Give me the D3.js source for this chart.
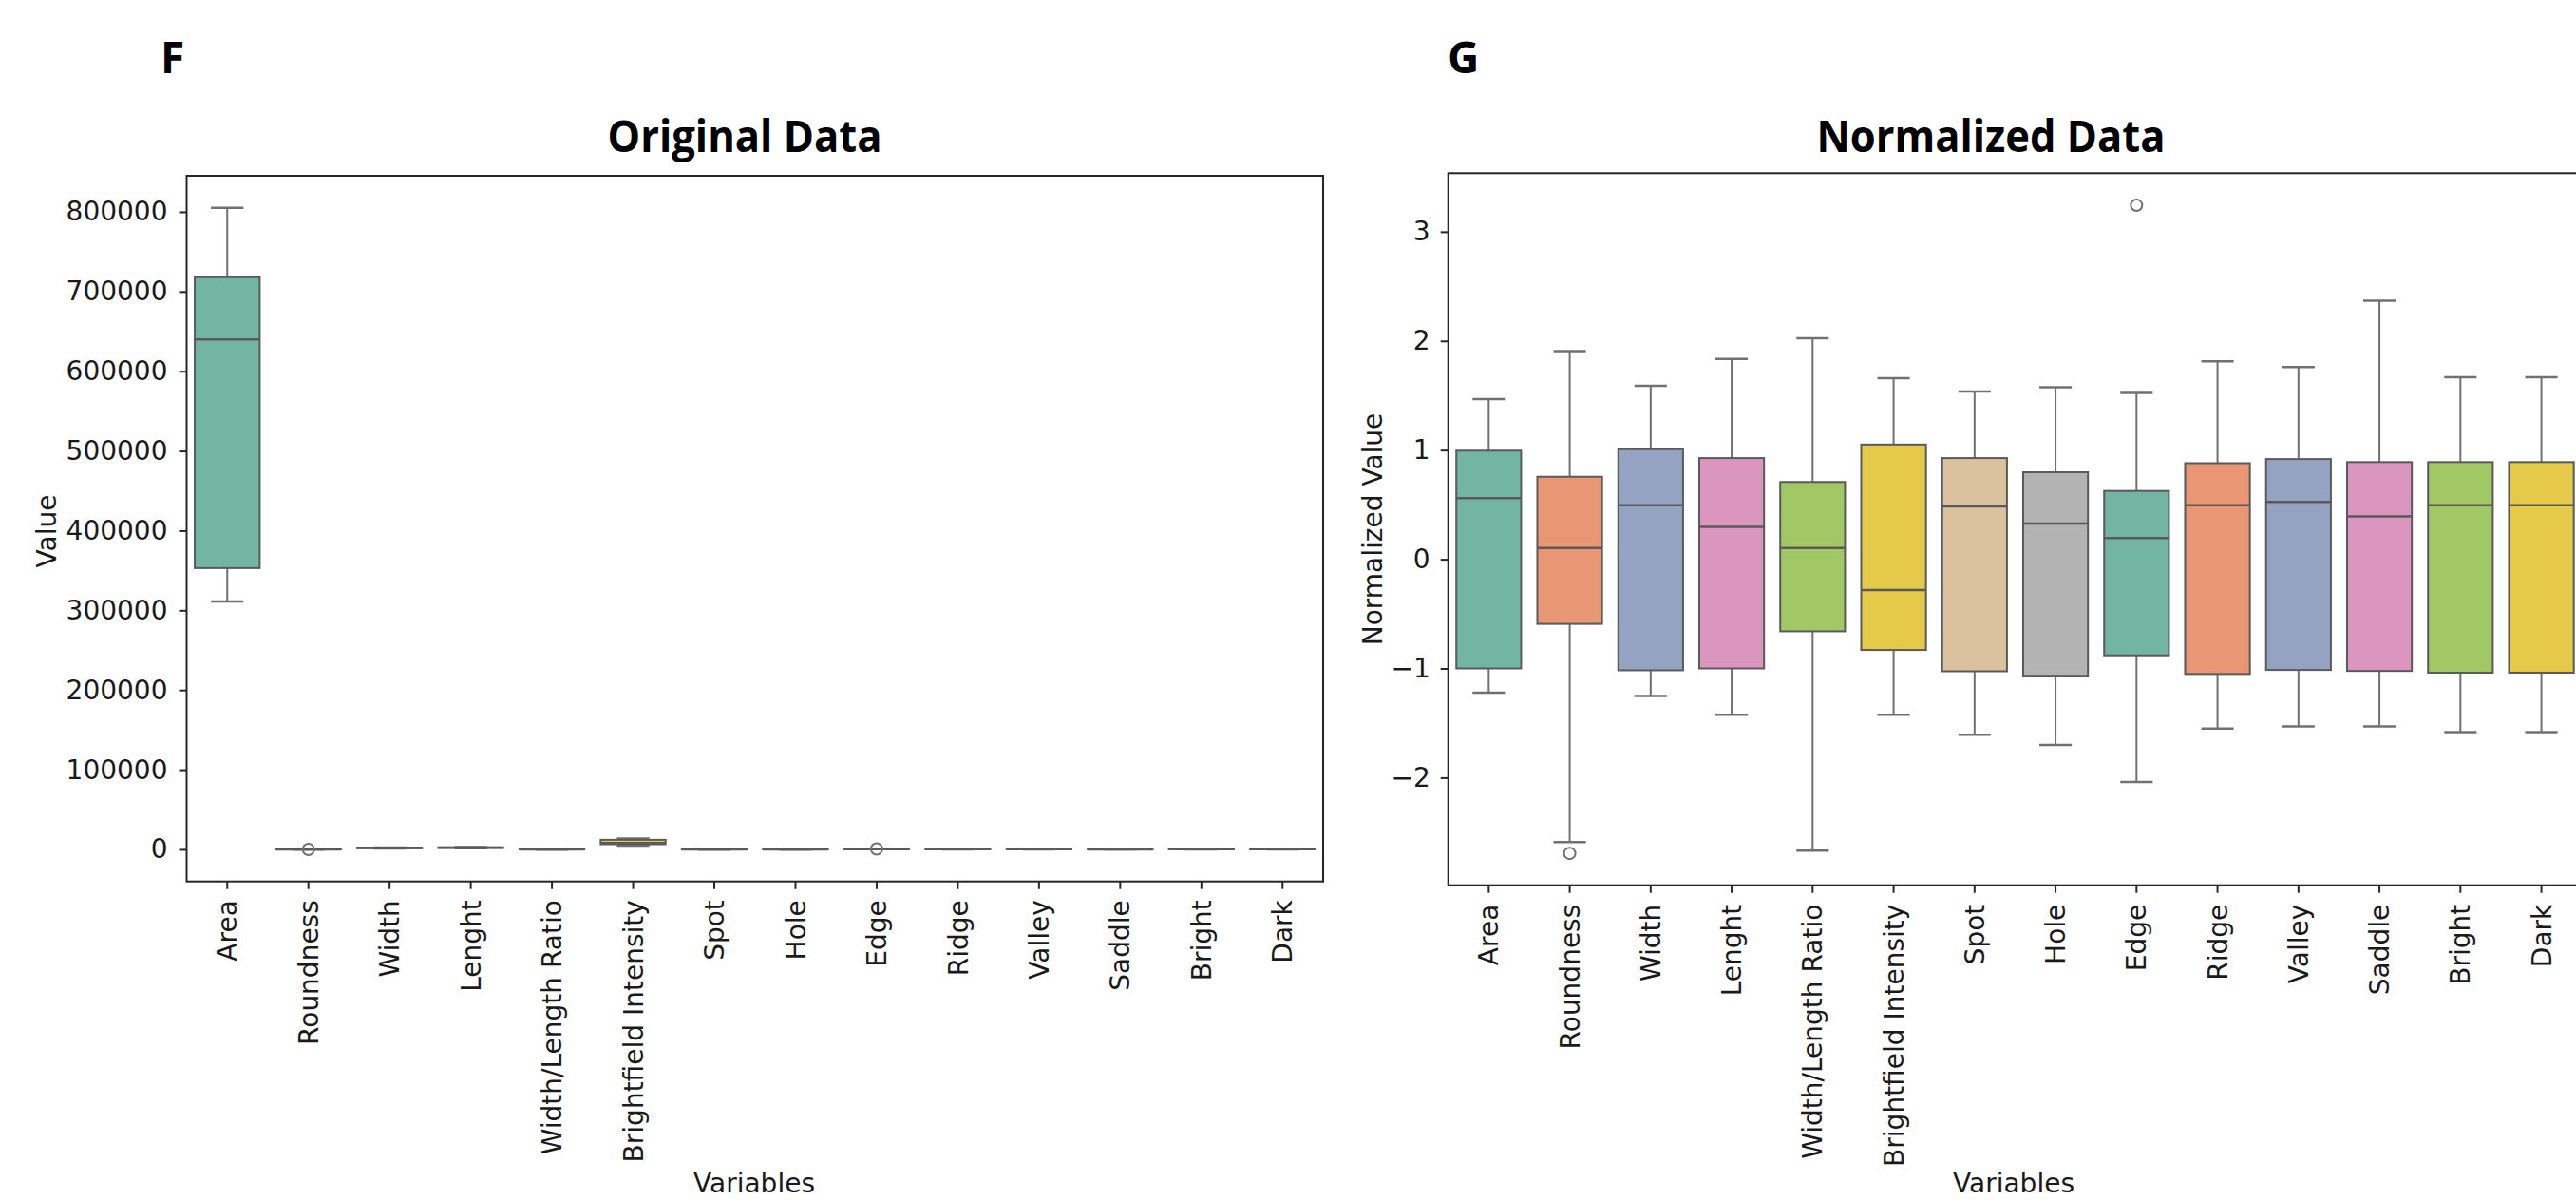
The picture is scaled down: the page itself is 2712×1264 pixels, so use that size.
<!DOCTYPE html>
<html><head><meta charset="utf-8">
<script src="https://cdn.jsdelivr.net/npm/d3@7"></script>
<style>body{margin:0;background:#fff}svg{display:block}</style>
</head><body>
<svg id="chart" width="2712" height="1264"></svg>
<script>
const categories = ["Area","Roundness","Width","Lenght","Width/Length Ratio","Brightfield Intensity","Spot","Hole","Edge","Ridge","Valley","Saddle","Bright","Dark"];
const palette = ["#66c2a5","#fc8d62","#8da0cb","#e78ac3","#a6d854","#ffd92f","#e5c494","#b3b3b3"];

// Original data (box statistics)
const origLower  = [311000, 0.670, 1261, 1530, 0.660, 4760, 15.9, 3.5, 136.9, 72.5, 71.2, 29.4, 42.5, 40.7];
const origQ1     = [353000, 0.770, 1344, 1700, 0.780, 6500, 24.6, 6.7, 229.6, 97.5, 94.4, 39.5, 58.8, 55.9];
const origMedian = [640000, 0.805, 1873, 2219, 0.826, 8110, 47.2, 13.6, 315.5, 174.8, 163.7, 67.9, 104.9, 98.9];
const origQ3     = [718000, 0.838, 2053, 2471, 0.862, 12000, 53.9, 16.0, 350.1, 194.0, 181.3, 77.8, 116.7, 109.9];
const origUpper  = [805000, 0.895, 2257, 2834, 0.941, 13780, 63.0, 19.9, 421.8, 240.7, 219.2, 107.3, 140.0, 131.7];
const origOutliers = [[], [0.665], [], [], [], [], [], [], [559.4], [], [], [], [], []];
const origTicks = [0, 100000, 200000, 300000, 400000, 500000, 600000, 700000, 800000];

// Normalized data (box statistics)
const normLower  = [-1.222, -2.590, -1.253, -1.425, -2.668, -1.425, -1.607, -1.700, -2.039, -1.551, -1.530, -1.530, -1.582, -1.582];
const normQ1     = [-1.000, -0.592, -1.017, -1.000, -0.660, -0.831, -1.026, -1.067, -0.880, -1.051, -1.014, -1.023, -1.039, -1.039];
const normMedian = [0.560, 0.104, 0.495, 0.297, 0.104, -0.281, 0.483, 0.328, 0.194, 0.495, 0.526, 0.393, 0.495, 0.495];
const normQ3     = [0.995, 0.756, 1.008, 0.927, 0.708, 1.051, 0.927, 0.797, 0.626, 0.880, 0.918, 0.890, 0.890, 0.890];
const normUpper  = [1.467, 1.906, 1.590, 1.836, 2.024, 1.659, 1.536, 1.576, 1.523, 1.813, 1.761, 2.367, 1.668, 1.668];
const normOutliers = [[], [-2.694], [], [], [], [], [], [], [3.242], [], [], [], [], []];
const normTicks = [-2, -1, 0, 1, 2, 3];

const svg = d3.select("#chart");
svg.append("rect").attr("width", 2712).attr("height", 1264).attr("fill", "#fff");

function desat(c) { const h = d3.hsl(c); h.s *= 0.75; return h.formatHex(); }

const TICK_FONT = "'DejaVu Sans', sans-serif";
const LINE = "#5a5a5a", WHISK = "#707070", FRAME = "#262626";

function drawPanel(o) {
  const g = svg.append("g");
  const x = d3.scaleBand().domain(categories).range(o.xRange).padding(0);
  const y = d3.scaleLinear().domain(o.yDomain).range(o.yRange);
  const bw = x.bandwidth(), boxW = bw * 0.8, capW = bw * 0.4;
  const data = categories.map((c, i) => ({
    c, lo: o.lower[i], q1: o.q1[i], med: o.median[i], q3: o.q3[i], hi: o.upper[i],
    out: o.outliers[i], color: desat(palette[i % palette.length])
  }));
  const cx = d => x(d.c) + bw / 2;
  const boxes = g.selectAll("g.box").data(data).join("g").attr("class", "box");
  // whiskers
  boxes.append("line").attr("x1", cx).attr("x2", cx).attr("y1", d => y(d.q3)).attr("y2", d => y(d.hi))
    .attr("stroke", WHISK).attr("stroke-width", 2);
  boxes.append("line").attr("x1", cx).attr("x2", cx).attr("y1", d => y(d.q1)).attr("y2", d => y(d.lo))
    .attr("stroke", WHISK).attr("stroke-width", 2);
  // caps
  boxes.append("line").attr("x1", d => cx(d) - capW / 2).attr("x2", d => cx(d) + capW / 2)
    .attr("y1", d => y(d.hi)).attr("y2", d => y(d.hi)).attr("stroke", WHISK).attr("stroke-width", 2.5);
  boxes.append("line").attr("x1", d => cx(d) - capW / 2).attr("x2", d => cx(d) + capW / 2)
    .attr("y1", d => y(d.lo)).attr("y2", d => y(d.lo)).attr("stroke", WHISK).attr("stroke-width", 2.5);
  // box
  boxes.append("rect").attr("x", d => cx(d) - boxW / 2).attr("width", boxW)
    .attr("y", d => y(d.q3)).attr("height", d => Math.max(0, y(d.q1) - y(d.q3)))
    .attr("fill", d => d.color).attr("stroke", LINE).attr("stroke-width", 2);
  // median
  boxes.append("line").attr("x1", d => cx(d) - boxW / 2).attr("x2", d => cx(d) + boxW / 2)
    .attr("y1", d => y(d.med)).attr("y2", d => y(d.med)).attr("stroke", LINE).attr("stroke-width", 2.5);
  // outliers
  boxes.each(function(d) {
    d3.select(this).selectAll("circle").data(d.out).join("circle")
      .attr("cx", cx(d)).attr("cy", v => y(v)).attr("r", 6)
      .attr("fill", "none").attr("stroke", WHISK).attr("stroke-width", 2);
  });

  // frame
  g.append("rect").attr("x", o.xRange[0]).attr("y", o.yRange[1])
    .attr("width", o.xRange[1] - o.xRange[0]).attr("height", o.yRange[0] - o.yRange[1])
    .attr("fill", "none").attr("stroke", FRAME).attr("stroke-width", 2);

  // y axis
  const ya = g.append("g").attr("transform", `translate(${o.xRange[0]},0)`)
    .call(d3.axisLeft(y).tickValues(o.ticks).tickSize(8).tickPadding(o.yPad).tickFormat(d3.format("d")));
  ya.select(".domain").remove();
  ya.selectAll("line").attr("stroke", FRAME).attr("stroke-width", 2);
  ya.selectAll("text").attr("font-family", TICK_FONT).attr("font-size", 28).attr("fill", "#1a1a1a");

  // x axis
  const xa = g.append("g").attr("transform", `translate(0,${o.yRange[0]})`)
    .call(d3.axisBottom(x).tickSize(8));
  xa.select(".domain").remove();
  xa.selectAll("line").attr("stroke", FRAME).attr("stroke-width", 2);
  xa.selectAll("text").attr("font-family", TICK_FONT).attr("font-size", 28).attr("fill", "#1a1a1a")
    .attr("transform", "rotate(-90)").attr("x", -o.xLabOff).attr("y", 0).attr("dy", "0.36em")
    .attr("text-anchor", "end");

  // axis titles
  g.append("text").attr("x", o.xTitle[0]).attr("y", o.xTitle[1]).attr("text-anchor", "middle")
    .attr("font-family", TICK_FONT).attr("font-size", 28).attr("fill", "#1a1a1a").text("Variables");
  g.append("text").attr("transform", `translate(${o.yTitle[0]},${o.yTitle[1]}) rotate(-90)`)
    .attr("text-anchor", "middle").attr("font-family", TICK_FONT).attr("font-size", 28)
    .attr("fill", "#1a1a1a").text(o.yLabel);

  // title
  g.append("text").attr("x", o.title[0]).attr("y", o.title[1]).attr("text-anchor", "middle")
    .attr("font-family", "'Open Sans', sans-serif").attr("font-weight", 700).attr("font-size", 46)
    .attr("textLength", o.title[2]).attr("lengthAdjust", "spacingAndGlyphs")
    .attr("fill", "#000").text(o.titleText);
  // panel letter
  g.append("text").attr("x", o.letter[0]).attr("y", o.letter[1])
    .attr("font-family", "'Open Sans', sans-serif").attr("font-weight", 700).attr("font-size", 46)
    .attr("fill", "#000").text(o.letterText);
}

drawPanel({
  xRange: [196.5, 1393], yDomain: [-40250, 845250], yRange: [927.7, 185],
  lower: origLower, q1: origQ1, median: origMedian, q3: origQ3, upper: origUpper, outliers: origOutliers,
  ticks: origTicks, yPad: 12, xLabOff: 19.5,
  xTitle: [794, 1255], yTitle: [59, 559], yLabel: "Value",
  title: [784, 160, 289], titleText: "Original Data",
  letter: [169, 77], letterText: "F"
});

drawPanel({
  xRange: [1524.7, 2718.2], yDomain: [-2.986, 3.536], yRange: [931.7, 182.3],
  lower: normLower, q1: normQ1, median: normMedian, q3: normQ3, upper: normUpper, outliers: normOutliers,
  ticks: normTicks, yPad: 11, xLabOff: 20,
  xTitle: [2120, 1255], yTitle: [1455, 557], yLabel: "Normalized Value",
  title: [2096, 160, 367], titleText: "Normalized Data",
  letter: [1524, 77], letterText: "G"
});
</script>
</body></html>
